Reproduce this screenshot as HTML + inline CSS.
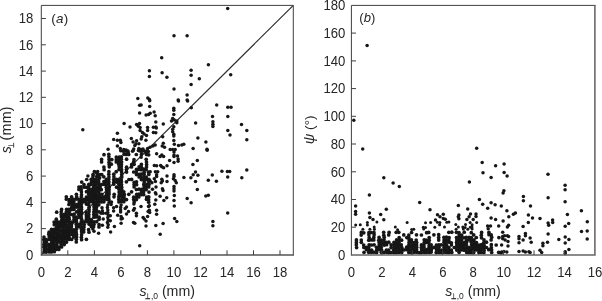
<!DOCTYPE html><html><head><meta charset="utf-8"><title>Figure</title><style>html,body{margin:0;padding:0;background:#fff}svg{display:block}text{font-family:"Liberation Sans",sans-serif;fill:#262626}</style></head><body>
<svg width="602" height="301" viewBox="0 0 602 301">
<rect width="602" height="301" fill="#fff"/>
<line x1="41.3" y1="254.9" x2="293.3" y2="5.4" stroke="#2a2a2a" stroke-width="1.15"/>
<g fill="#161616">
<circle cx="227.7" cy="8.6" r="1.75"/>
<circle cx="174.0" cy="35.8" r="1.75"/>
<circle cx="187.1" cy="35.8" r="1.75"/>
<circle cx="161.7" cy="57.7" r="1.75"/>
<circle cx="149.4" cy="70.7" r="1.75"/>
<circle cx="149.4" cy="76.5" r="1.75"/>
<circle cx="162.1" cy="72.8" r="1.75"/>
<circle cx="166.9" cy="77.3" r="1.75"/>
<circle cx="191.1" cy="70.3" r="1.75"/>
<circle cx="191.1" cy="75.2" r="1.75"/>
<circle cx="208.4" cy="64.7" r="1.75"/>
<circle cx="199.3" cy="78.8" r="1.75"/>
<circle cx="230.7" cy="74.8" r="1.75"/>
<circle cx="191.1" cy="84.5" r="1.75"/>
<circle cx="174.0" cy="89.0" r="1.75"/>
<circle cx="187.1" cy="94.9" r="1.75"/>
<circle cx="147.8" cy="97.9" r="1.75"/>
<circle cx="149.4" cy="99.4" r="1.75"/>
<circle cx="178.2" cy="100.1" r="1.75"/>
<circle cx="187.1" cy="100.1" r="1.75"/>
<circle cx="137.8" cy="98.6" r="1.75"/>
<circle cx="82.8" cy="129.7" r="1.75"/>
<circle cx="139.6" cy="105.2" r="1.75"/>
<circle cx="139.6" cy="113.0" r="1.75"/>
<circle cx="141.1" cy="104.9" r="1.75"/>
<circle cx="149.7" cy="106.4" r="1.75"/>
<circle cx="149.7" cy="100.7" r="1.75"/>
<circle cx="146.1" cy="114.9" r="1.75"/>
<circle cx="148.6" cy="114.4" r="1.75"/>
<circle cx="150.2" cy="113.2" r="1.75"/>
<circle cx="154.1" cy="111.9" r="1.75"/>
<circle cx="173.8" cy="108.2" r="1.75"/>
<circle cx="173.8" cy="110.2" r="1.75"/>
<circle cx="173.8" cy="114.4" r="1.75"/>
<circle cx="172.7" cy="118.5" r="1.75"/>
<circle cx="174.3" cy="119.9" r="1.75"/>
<circle cx="171.5" cy="121.0" r="1.75"/>
<circle cx="176.8" cy="121.0" r="1.75"/>
<circle cx="176.8" cy="122.7" r="1.75"/>
<circle cx="173.8" cy="126.8" r="1.75"/>
<circle cx="172.7" cy="129.3" r="1.75"/>
<circle cx="172.7" cy="131.8" r="1.75"/>
<circle cx="173.8" cy="134.3" r="1.75"/>
<circle cx="173.8" cy="136.0" r="1.75"/>
<circle cx="173.8" cy="140.4" r="1.75"/>
<circle cx="174.3" cy="144.3" r="1.75"/>
<circle cx="178.5" cy="145.4" r="1.75"/>
<circle cx="181.8" cy="145.1" r="1.75"/>
<circle cx="183.8" cy="144.3" r="1.75"/>
<circle cx="170.2" cy="149.6" r="1.75"/>
<circle cx="172.7" cy="149.6" r="1.75"/>
<circle cx="175.2" cy="149.6" r="1.75"/>
<circle cx="178.5" cy="101.1" r="1.75"/>
<circle cx="187.6" cy="101.1" r="1.75"/>
<circle cx="191.3" cy="107.7" r="1.75"/>
<circle cx="195.6" cy="123.0" r="1.75"/>
<circle cx="197.9" cy="138.0" r="1.75"/>
<circle cx="205.9" cy="142.1" r="1.75"/>
<circle cx="193.1" cy="148.4" r="1.75"/>
<circle cx="207.0" cy="149.3" r="1.75"/>
<circle cx="216.7" cy="104.9" r="1.75"/>
<circle cx="212.5" cy="116.4" r="1.75"/>
<circle cx="212.9" cy="121.8" r="1.75"/>
<circle cx="212.9" cy="124.3" r="1.75"/>
<circle cx="212.9" cy="126.5" r="1.75"/>
<circle cx="227.8" cy="107.2" r="1.75"/>
<circle cx="227.8" cy="116.5" r="1.75"/>
<circle cx="227.8" cy="130.6" r="1.75"/>
<circle cx="230.0" cy="135.1" r="1.75"/>
<circle cx="231.0" cy="107.2" r="1.75"/>
<circle cx="241.5" cy="124.5" r="1.75"/>
<circle cx="246.8" cy="130.6" r="1.75"/>
<circle cx="246.8" cy="139.8" r="1.75"/>
<circle cx="221.9" cy="171.2" r="1.75"/>
<circle cx="227.4" cy="171.5" r="1.75"/>
<circle cx="229.7" cy="171.5" r="1.75"/>
<circle cx="246.8" cy="169.9" r="1.75"/>
<circle cx="212.3" cy="175.0" r="1.75"/>
<circle cx="227.7" cy="177.0" r="1.75"/>
<circle cx="241.8" cy="177.7" r="1.75"/>
<circle cx="208.3" cy="180.3" r="1.75"/>
<circle cx="216.4" cy="181.3" r="1.75"/>
<circle cx="205.8" cy="196.1" r="1.75"/>
<circle cx="208.3" cy="195.3" r="1.75"/>
<circle cx="227.7" cy="213.0" r="1.75"/>
<circle cx="212.9" cy="221.5" r="1.75"/>
<circle cx="212.9" cy="225.7" r="1.75"/>
<circle cx="207.2" cy="150.2" r="1.75"/>
<circle cx="197.3" cy="160.5" r="1.75"/>
<circle cx="192.9" cy="164.4" r="1.75"/>
<circle cx="195.5" cy="172.1" r="1.75"/>
<circle cx="193.2" cy="174.7" r="1.75"/>
<circle cx="197.9" cy="175.2" r="1.75"/>
<circle cx="190.9" cy="177.8" r="1.75"/>
<circle cx="195.5" cy="181.6" r="1.75"/>
<circle cx="183.9" cy="177.6" r="1.75"/>
<circle cx="174.0" cy="152.0" r="1.75"/>
<circle cx="174.0" cy="154.9" r="1.75"/>
<circle cx="174.0" cy="156.6" r="1.75"/>
<circle cx="177.5" cy="156.1" r="1.75"/>
<circle cx="178.1" cy="159.0" r="1.75"/>
<circle cx="178.1" cy="161.3" r="1.75"/>
<circle cx="174.0" cy="162.5" r="1.75"/>
<circle cx="169.6" cy="160.5" r="1.75"/>
<circle cx="156.6" cy="153.7" r="1.75"/>
<circle cx="161.8" cy="154.9" r="1.75"/>
<circle cx="160.1" cy="156.6" r="1.75"/>
<circle cx="163.6" cy="156.6" r="1.75"/>
<circle cx="154.3" cy="165.4" r="1.75"/>
<circle cx="156.6" cy="165.7" r="1.75"/>
<circle cx="160.6" cy="165.4" r="1.75"/>
<circle cx="161.8" cy="166.8" r="1.75"/>
<circle cx="163.6" cy="167.7" r="1.75"/>
<circle cx="167.0" cy="165.7" r="1.75"/>
<circle cx="155.4" cy="171.8" r="1.75"/>
<circle cx="157.7" cy="171.8" r="1.75"/>
<circle cx="156.6" cy="174.7" r="1.75"/>
<circle cx="156.6" cy="176.4" r="1.75"/>
<circle cx="150.2" cy="171.8" r="1.75"/>
<circle cx="167.0" cy="176.1" r="1.75"/>
<circle cx="174.0" cy="174.7" r="1.75"/>
<circle cx="174.0" cy="176.4" r="1.75"/>
<circle cx="173.4" cy="178.7" r="1.75"/>
<circle cx="175.2" cy="180.5" r="1.75"/>
<circle cx="176.3" cy="182.8" r="1.75"/>
<circle cx="167.0" cy="181.6" r="1.75"/>
<circle cx="161.8" cy="179.3" r="1.75"/>
<circle cx="162.4" cy="181.1" r="1.75"/>
<circle cx="161.2" cy="182.8" r="1.75"/>
<circle cx="154.3" cy="178.7" r="1.75"/>
<circle cx="155.4" cy="181.6" r="1.75"/>
<circle cx="146.1" cy="153.2" r="1.75"/>
<circle cx="148.4" cy="151.4" r="1.75"/>
<circle cx="141.5" cy="151.4" r="1.75"/>
<circle cx="150.2" cy="181.1" r="1.75"/>
<circle cx="151.9" cy="182.8" r="1.75"/>
<circle cx="197.3" cy="189.6" r="1.75"/>
<circle cx="187.2" cy="198.4" r="1.75"/>
<circle cx="191.1" cy="202.7" r="1.75"/>
<circle cx="174.0" cy="186.4" r="1.75"/>
<circle cx="174.0" cy="188.7" r="1.75"/>
<circle cx="174.0" cy="191.1" r="1.75"/>
<circle cx="174.3" cy="195.5" r="1.75"/>
<circle cx="174.0" cy="200.4" r="1.75"/>
<circle cx="174.3" cy="205.9" r="1.75"/>
<circle cx="174.6" cy="218.4" r="1.75"/>
<circle cx="162.4" cy="188.7" r="1.75"/>
<circle cx="163.0" cy="190.5" r="1.75"/>
<circle cx="160.1" cy="196.3" r="1.75"/>
<circle cx="166.7" cy="197.7" r="1.75"/>
<circle cx="163.9" cy="200.4" r="1.75"/>
<circle cx="156.0" cy="187.0" r="1.75"/>
<circle cx="155.4" cy="192.8" r="1.75"/>
<circle cx="156.0" cy="194.0" r="1.75"/>
<circle cx="155.8" cy="200.1" r="1.75"/>
<circle cx="154.8" cy="204.2" r="1.75"/>
<circle cx="156.6" cy="210.2" r="1.75"/>
<circle cx="156.6" cy="214.3" r="1.75"/>
<circle cx="152.5" cy="189.3" r="1.75"/>
<circle cx="155.8" cy="225.6" r="1.75"/>
<circle cx="163.1" cy="223.5" r="1.75"/>
<circle cx="176.8" cy="221.5" r="1.75"/>
<circle cx="160.2" cy="234.3" r="1.75"/>
<circle cx="124.5" cy="151.1" r="1.75"/>
<circle cx="128.0" cy="152.2" r="1.75"/>
<circle cx="133.2" cy="150.5" r="1.75"/>
<circle cx="138.4" cy="150.5" r="1.75"/>
<circle cx="143.1" cy="150.5" r="1.75"/>
<circle cx="94.3" cy="171.4" r="1.75"/>
<circle cx="97.7" cy="171.4" r="1.75"/>
<circle cx="87.9" cy="176.1" r="1.75"/>
<circle cx="93.1" cy="175.5" r="1.75"/>
<circle cx="96.6" cy="176.6" r="1.75"/>
<circle cx="96.8" cy="173.2" r="1.75"/>
<circle cx="99.7" cy="177.8" r="1.75"/>
<circle cx="100.3" cy="186.9" r="1.75"/>
<circle cx="120.7" cy="150.8" r="1.75"/>
<circle cx="123.1" cy="151.2" r="1.75"/>
<circle cx="125.6" cy="151.0" r="1.75"/>
<circle cx="128.0" cy="151.0" r="1.75"/>
<circle cx="132.5" cy="151.2" r="1.75"/>
<circle cx="139.7" cy="150.9" r="1.75"/>
<circle cx="144.3" cy="151.1" r="1.75"/>
<circle cx="146.7" cy="150.9" r="1.75"/>
<circle cx="95.3" cy="172.0" r="1.75"/>
<circle cx="93.1" cy="174.2" r="1.75"/>
<circle cx="97.6" cy="174.5" r="1.75"/>
<circle cx="100.1" cy="174.4" r="1.75"/>
<circle cx="92.9" cy="176.9" r="1.75"/>
<circle cx="98.0" cy="176.5" r="1.75"/>
<circle cx="155.2" cy="115.8" r="1.75"/>
<circle cx="155.8" cy="121.9" r="1.75"/>
<circle cx="163.3" cy="124.0" r="1.75"/>
<circle cx="124.1" cy="123.6" r="1.75"/>
<circle cx="130.0" cy="126.9" r="1.75"/>
<circle cx="136.6" cy="124.6" r="1.75"/>
<circle cx="139.5" cy="123.6" r="1.75"/>
<circle cx="138.3" cy="126.3" r="1.75"/>
<circle cx="140.1" cy="127.5" r="1.75"/>
<circle cx="147.6" cy="127.5" r="1.75"/>
<circle cx="147.6" cy="130.4" r="1.75"/>
<circle cx="153.4" cy="127.2" r="1.75"/>
<circle cx="155.8" cy="126.9" r="1.75"/>
<circle cx="156.3" cy="128.0" r="1.75"/>
<circle cx="153.4" cy="132.5" r="1.75"/>
<circle cx="155.8" cy="132.7" r="1.75"/>
<circle cx="140.1" cy="130.4" r="1.75"/>
<circle cx="142.4" cy="132.5" r="1.75"/>
<circle cx="144.1" cy="133.9" r="1.75"/>
<circle cx="146.5" cy="135.6" r="1.75"/>
<circle cx="117.4" cy="133.3" r="1.75"/>
<circle cx="141.8" cy="136.8" r="1.75"/>
<circle cx="141.2" cy="139.1" r="1.75"/>
<circle cx="145.9" cy="140.2" r="1.75"/>
<circle cx="131.3" cy="138.5" r="1.75"/>
<circle cx="133.1" cy="142.0" r="1.75"/>
<circle cx="136.6" cy="140.8" r="1.75"/>
<circle cx="136.0" cy="143.7" r="1.75"/>
<circle cx="138.9" cy="143.7" r="1.75"/>
<circle cx="134.8" cy="145.5" r="1.75"/>
<circle cx="113.7" cy="139.4" r="1.75"/>
<circle cx="117.4" cy="140.2" r="1.75"/>
<circle cx="120.3" cy="140.2" r="1.75"/>
<circle cx="120.9" cy="142.6" r="1.75"/>
<circle cx="117.4" cy="146.1" r="1.75"/>
<circle cx="120.3" cy="148.4" r="1.75"/>
<circle cx="108.1" cy="149.2" r="1.75"/>
<circle cx="162.7" cy="136.8" r="1.75"/>
<circle cx="163.3" cy="143.2" r="1.75"/>
<circle cx="162.2" cy="146.1" r="1.75"/>
<circle cx="164.5" cy="147.2" r="1.75"/>
<circle cx="133.7" cy="149.0" r="1.75"/>
<circle cx="138.9" cy="148.4" r="1.75"/>
<circle cx="141.2" cy="149.6" r="1.75"/>
<circle cx="143.0" cy="149.0" r="1.75"/>
<circle cx="147.6" cy="148.4" r="1.75"/>
<circle cx="150.0" cy="147.2" r="1.75"/>
<circle cx="152.9" cy="146.1" r="1.75"/>
<circle cx="155.2" cy="144.9" r="1.75"/>
<circle cx="123.8" cy="149.6" r="1.75"/>
<circle cx="126.1" cy="149.9" r="1.75"/>
<circle cx="106.3" cy="179.4" r="1.85"/>
<circle cx="108.7" cy="179.3" r="1.85"/>
<circle cx="113.7" cy="179.6" r="1.85"/>
<circle cx="116.5" cy="179.3" r="1.85"/>
<circle cx="119.0" cy="179.8" r="1.85"/>
<circle cx="121.2" cy="179.7" r="1.85"/>
<circle cx="128.9" cy="179.5" r="1.85"/>
<circle cx="131.6" cy="179.4" r="1.85"/>
<circle cx="141.4" cy="179.6" r="1.85"/>
<circle cx="144.2" cy="179.4" r="1.85"/>
<circle cx="146.6" cy="179.6" r="1.85"/>
<circle cx="149.0" cy="179.4" r="1.85"/>
<circle cx="103.9" cy="181.7" r="1.85"/>
<circle cx="106.3" cy="182.1" r="1.85"/>
<circle cx="108.9" cy="181.8" r="1.85"/>
<circle cx="113.8" cy="182.2" r="1.85"/>
<circle cx="116.7" cy="182.1" r="1.85"/>
<circle cx="118.8" cy="181.9" r="1.85"/>
<circle cx="121.5" cy="181.8" r="1.85"/>
<circle cx="126.4" cy="181.8" r="1.85"/>
<circle cx="134.2" cy="182.3" r="1.85"/>
<circle cx="136.5" cy="181.8" r="1.85"/>
<circle cx="144.2" cy="181.9" r="1.85"/>
<circle cx="148.8" cy="181.7" r="1.85"/>
<circle cx="101.5" cy="184.5" r="1.85"/>
<circle cx="104.0" cy="184.3" r="1.85"/>
<circle cx="106.2" cy="184.3" r="1.85"/>
<circle cx="108.8" cy="184.4" r="1.85"/>
<circle cx="113.7" cy="184.2" r="1.85"/>
<circle cx="118.9" cy="184.3" r="1.85"/>
<circle cx="121.5" cy="184.5" r="1.85"/>
<circle cx="134.1" cy="184.6" r="1.85"/>
<circle cx="136.6" cy="184.7" r="1.85"/>
<circle cx="143.8" cy="184.4" r="1.85"/>
<circle cx="146.7" cy="184.3" r="1.85"/>
<circle cx="149.0" cy="184.6" r="1.85"/>
<circle cx="106.3" cy="187.2" r="1.85"/>
<circle cx="109.3" cy="187.0" r="1.85"/>
<circle cx="116.6" cy="187.2" r="1.85"/>
<circle cx="119.0" cy="187.0" r="1.85"/>
<circle cx="121.7" cy="187.2" r="1.85"/>
<circle cx="134.1" cy="187.0" r="1.85"/>
<circle cx="144.1" cy="187.1" r="1.85"/>
<circle cx="146.2" cy="186.7" r="1.85"/>
<circle cx="148.7" cy="186.9" r="1.85"/>
<circle cx="101.3" cy="189.7" r="1.85"/>
<circle cx="106.6" cy="189.5" r="1.85"/>
<circle cx="109.1" cy="189.6" r="1.85"/>
<circle cx="119.0" cy="189.2" r="1.85"/>
<circle cx="121.7" cy="189.6" r="1.85"/>
<circle cx="136.4" cy="189.5" r="1.85"/>
<circle cx="139.0" cy="189.2" r="1.85"/>
<circle cx="141.6" cy="189.3" r="1.85"/>
<circle cx="143.8" cy="189.6" r="1.85"/>
<circle cx="146.2" cy="189.6" r="1.85"/>
<circle cx="106.8" cy="192.0" r="1.85"/>
<circle cx="109.0" cy="191.9" r="1.85"/>
<circle cx="119.1" cy="192.1" r="1.85"/>
<circle cx="121.6" cy="191.7" r="1.85"/>
<circle cx="123.8" cy="191.8" r="1.85"/>
<circle cx="131.6" cy="191.8" r="1.85"/>
<circle cx="141.5" cy="191.7" r="1.85"/>
<circle cx="143.6" cy="191.8" r="1.85"/>
<circle cx="149.0" cy="192.1" r="1.85"/>
<circle cx="101.7" cy="194.3" r="1.85"/>
<circle cx="106.5" cy="194.4" r="1.85"/>
<circle cx="109.0" cy="194.2" r="1.85"/>
<circle cx="114.2" cy="194.3" r="1.85"/>
<circle cx="119.3" cy="194.7" r="1.85"/>
<circle cx="121.5" cy="194.6" r="1.85"/>
<circle cx="124.3" cy="194.4" r="1.85"/>
<circle cx="128.8" cy="194.3" r="1.85"/>
<circle cx="136.7" cy="194.3" r="1.85"/>
<circle cx="139.0" cy="194.2" r="1.85"/>
<circle cx="141.4" cy="194.7" r="1.85"/>
<circle cx="143.7" cy="194.6" r="1.85"/>
<circle cx="101.6" cy="197.2" r="1.85"/>
<circle cx="104.2" cy="196.8" r="1.85"/>
<circle cx="106.5" cy="196.7" r="1.85"/>
<circle cx="108.7" cy="196.9" r="1.85"/>
<circle cx="114.0" cy="196.8" r="1.85"/>
<circle cx="118.8" cy="196.8" r="1.85"/>
<circle cx="121.7" cy="196.6" r="1.85"/>
<circle cx="124.1" cy="197.1" r="1.85"/>
<circle cx="133.7" cy="197.2" r="1.85"/>
<circle cx="136.7" cy="196.8" r="1.85"/>
<circle cx="138.8" cy="196.9" r="1.85"/>
<circle cx="146.7" cy="197.0" r="1.85"/>
<circle cx="148.8" cy="196.9" r="1.85"/>
<circle cx="101.4" cy="199.2" r="1.85"/>
<circle cx="104.2" cy="199.3" r="1.85"/>
<circle cx="106.8" cy="199.3" r="1.85"/>
<circle cx="108.9" cy="199.4" r="1.85"/>
<circle cx="118.8" cy="199.4" r="1.85"/>
<circle cx="121.7" cy="199.6" r="1.85"/>
<circle cx="124.2" cy="199.7" r="1.85"/>
<circle cx="126.5" cy="199.6" r="1.85"/>
<circle cx="133.7" cy="199.6" r="1.85"/>
<circle cx="136.4" cy="199.6" r="1.85"/>
<circle cx="146.5" cy="199.3" r="1.85"/>
<circle cx="148.6" cy="199.7" r="1.85"/>
<circle cx="101.3" cy="201.9" r="1.85"/>
<circle cx="103.9" cy="201.8" r="1.85"/>
<circle cx="109.2" cy="202.2" r="1.85"/>
<circle cx="111.4" cy="202.0" r="1.85"/>
<circle cx="118.9" cy="202.0" r="1.85"/>
<circle cx="121.4" cy="201.7" r="1.85"/>
<circle cx="123.8" cy="201.7" r="1.85"/>
<circle cx="134.2" cy="201.9" r="1.85"/>
<circle cx="148.7" cy="202.2" r="1.85"/>
<circle cx="86.7" cy="179.5" r="1.85"/>
<circle cx="91.2" cy="179.3" r="1.85"/>
<circle cx="93.7" cy="179.4" r="1.85"/>
<circle cx="96.2" cy="179.3" r="1.85"/>
<circle cx="98.7" cy="179.5" r="1.85"/>
<circle cx="81.7" cy="182.1" r="1.85"/>
<circle cx="91.4" cy="181.9" r="1.85"/>
<circle cx="93.8" cy="181.9" r="1.85"/>
<circle cx="96.3" cy="182.3" r="1.85"/>
<circle cx="98.7" cy="182.0" r="1.85"/>
<circle cx="84.0" cy="184.7" r="1.85"/>
<circle cx="88.8" cy="184.3" r="1.85"/>
<circle cx="91.3" cy="184.4" r="1.85"/>
<circle cx="94.2" cy="184.7" r="1.85"/>
<circle cx="96.1" cy="184.2" r="1.85"/>
<circle cx="99.0" cy="184.7" r="1.85"/>
<circle cx="78.9" cy="187.0" r="1.85"/>
<circle cx="81.1" cy="186.9" r="1.85"/>
<circle cx="84.2" cy="187.2" r="1.85"/>
<circle cx="86.6" cy="187.3" r="1.85"/>
<circle cx="88.8" cy="186.7" r="1.85"/>
<circle cx="93.7" cy="187.0" r="1.85"/>
<circle cx="96.7" cy="187.1" r="1.85"/>
<circle cx="99.0" cy="187.1" r="1.85"/>
<circle cx="78.9" cy="189.5" r="1.85"/>
<circle cx="81.2" cy="189.6" r="1.85"/>
<circle cx="88.8" cy="189.7" r="1.85"/>
<circle cx="91.5" cy="189.3" r="1.85"/>
<circle cx="93.8" cy="189.5" r="1.85"/>
<circle cx="96.2" cy="189.2" r="1.85"/>
<circle cx="98.9" cy="189.5" r="1.85"/>
<circle cx="81.4" cy="191.8" r="1.85"/>
<circle cx="86.5" cy="191.7" r="1.85"/>
<circle cx="88.9" cy="192.2" r="1.85"/>
<circle cx="91.6" cy="191.9" r="1.85"/>
<circle cx="93.8" cy="192.2" r="1.85"/>
<circle cx="96.3" cy="191.7" r="1.85"/>
<circle cx="98.9" cy="192.1" r="1.85"/>
<circle cx="76.4" cy="194.3" r="1.85"/>
<circle cx="81.5" cy="194.7" r="1.85"/>
<circle cx="88.8" cy="194.2" r="1.85"/>
<circle cx="91.4" cy="194.6" r="1.85"/>
<circle cx="94.1" cy="194.6" r="1.85"/>
<circle cx="96.2" cy="194.7" r="1.85"/>
<circle cx="98.8" cy="194.6" r="1.85"/>
<circle cx="66.3" cy="196.8" r="1.85"/>
<circle cx="71.6" cy="196.8" r="1.85"/>
<circle cx="76.7" cy="196.9" r="1.85"/>
<circle cx="81.3" cy="196.8" r="1.85"/>
<circle cx="86.4" cy="197.0" r="1.85"/>
<circle cx="88.7" cy="196.9" r="1.85"/>
<circle cx="91.7" cy="196.7" r="1.85"/>
<circle cx="93.6" cy="196.9" r="1.85"/>
<circle cx="96.6" cy="197.1" r="1.85"/>
<circle cx="99.2" cy="197.2" r="1.85"/>
<circle cx="66.4" cy="199.2" r="1.85"/>
<circle cx="69.2" cy="199.6" r="1.85"/>
<circle cx="71.6" cy="199.4" r="1.85"/>
<circle cx="73.9" cy="199.3" r="1.85"/>
<circle cx="76.3" cy="199.1" r="1.85"/>
<circle cx="78.8" cy="199.3" r="1.85"/>
<circle cx="81.2" cy="199.7" r="1.85"/>
<circle cx="83.8" cy="199.3" r="1.85"/>
<circle cx="86.6" cy="199.4" r="1.85"/>
<circle cx="88.9" cy="199.4" r="1.85"/>
<circle cx="91.2" cy="199.3" r="1.85"/>
<circle cx="93.6" cy="199.4" r="1.85"/>
<circle cx="96.6" cy="199.2" r="1.85"/>
<circle cx="98.6" cy="199.2" r="1.85"/>
<circle cx="69.2" cy="201.8" r="1.85"/>
<circle cx="71.6" cy="202.2" r="1.85"/>
<circle cx="73.9" cy="201.8" r="1.85"/>
<circle cx="79.2" cy="202.0" r="1.85"/>
<circle cx="81.3" cy="202.1" r="1.85"/>
<circle cx="83.8" cy="201.8" r="1.85"/>
<circle cx="86.1" cy="202.1" r="1.85"/>
<circle cx="89.2" cy="202.0" r="1.85"/>
<circle cx="91.7" cy="201.6" r="1.85"/>
<circle cx="93.7" cy="201.9" r="1.85"/>
<circle cx="96.7" cy="202.2" r="1.85"/>
<circle cx="98.8" cy="201.8" r="1.85"/>
<circle cx="68.9" cy="204.5" r="1.85"/>
<circle cx="71.7" cy="204.3" r="1.85"/>
<circle cx="74.2" cy="204.6" r="1.85"/>
<circle cx="76.7" cy="204.7" r="1.85"/>
<circle cx="79.0" cy="204.4" r="1.85"/>
<circle cx="81.3" cy="204.4" r="1.85"/>
<circle cx="86.6" cy="204.2" r="1.85"/>
<circle cx="88.7" cy="204.6" r="1.85"/>
<circle cx="93.8" cy="204.2" r="1.85"/>
<circle cx="96.1" cy="204.5" r="1.85"/>
<circle cx="98.8" cy="204.8" r="1.85"/>
<circle cx="71.7" cy="207.3" r="1.85"/>
<circle cx="73.7" cy="206.7" r="1.85"/>
<circle cx="76.5" cy="207.1" r="1.85"/>
<circle cx="78.8" cy="206.9" r="1.85"/>
<circle cx="81.5" cy="207.1" r="1.85"/>
<circle cx="89.1" cy="207.2" r="1.85"/>
<circle cx="94.0" cy="206.8" r="1.85"/>
<circle cx="96.6" cy="206.9" r="1.85"/>
<circle cx="61.6" cy="209.4" r="1.85"/>
<circle cx="66.6" cy="209.3" r="1.85"/>
<circle cx="68.8" cy="209.3" r="1.85"/>
<circle cx="71.3" cy="209.7" r="1.85"/>
<circle cx="74.0" cy="209.4" r="1.85"/>
<circle cx="78.9" cy="209.8" r="1.85"/>
<circle cx="81.5" cy="209.3" r="1.85"/>
<circle cx="89.1" cy="209.6" r="1.85"/>
<circle cx="94.2" cy="209.2" r="1.85"/>
<circle cx="96.4" cy="209.7" r="1.85"/>
<circle cx="56.7" cy="212.2" r="1.85"/>
<circle cx="61.2" cy="211.8" r="1.85"/>
<circle cx="66.3" cy="211.8" r="1.85"/>
<circle cx="69.3" cy="212.0" r="1.85"/>
<circle cx="76.7" cy="211.9" r="1.85"/>
<circle cx="78.9" cy="211.8" r="1.85"/>
<circle cx="81.6" cy="212.2" r="1.85"/>
<circle cx="86.2" cy="212.0" r="1.85"/>
<circle cx="89.0" cy="211.8" r="1.85"/>
<circle cx="93.8" cy="211.8" r="1.85"/>
<circle cx="96.2" cy="212.0" r="1.85"/>
<circle cx="99.0" cy="211.8" r="1.85"/>
<circle cx="61.2" cy="214.4" r="1.85"/>
<circle cx="64.1" cy="214.3" r="1.85"/>
<circle cx="66.3" cy="214.6" r="1.85"/>
<circle cx="68.7" cy="214.2" r="1.85"/>
<circle cx="71.4" cy="214.5" r="1.85"/>
<circle cx="74.1" cy="214.2" r="1.85"/>
<circle cx="78.8" cy="214.6" r="1.85"/>
<circle cx="81.4" cy="214.3" r="1.85"/>
<circle cx="86.3" cy="214.7" r="1.85"/>
<circle cx="88.8" cy="214.5" r="1.85"/>
<circle cx="93.8" cy="214.4" r="1.85"/>
<circle cx="96.6" cy="214.8" r="1.85"/>
<circle cx="61.4" cy="216.8" r="1.85"/>
<circle cx="63.8" cy="216.7" r="1.85"/>
<circle cx="66.5" cy="217.1" r="1.85"/>
<circle cx="68.9" cy="217.2" r="1.85"/>
<circle cx="73.9" cy="216.8" r="1.85"/>
<circle cx="76.2" cy="217.0" r="1.85"/>
<circle cx="79.0" cy="217.2" r="1.85"/>
<circle cx="81.2" cy="217.0" r="1.85"/>
<circle cx="86.4" cy="217.0" r="1.85"/>
<circle cx="88.7" cy="216.8" r="1.85"/>
<circle cx="93.9" cy="217.2" r="1.85"/>
<circle cx="96.2" cy="216.9" r="1.85"/>
<circle cx="99.1" cy="217.2" r="1.85"/>
<circle cx="56.3" cy="219.2" r="1.85"/>
<circle cx="61.8" cy="219.7" r="1.85"/>
<circle cx="63.7" cy="219.7" r="1.85"/>
<circle cx="66.7" cy="219.5" r="1.85"/>
<circle cx="69.2" cy="219.2" r="1.85"/>
<circle cx="74.1" cy="219.3" r="1.85"/>
<circle cx="76.4" cy="219.7" r="1.85"/>
<circle cx="81.6" cy="219.3" r="1.85"/>
<circle cx="86.3" cy="219.4" r="1.85"/>
<circle cx="88.9" cy="219.2" r="1.85"/>
<circle cx="91.3" cy="219.6" r="1.85"/>
<circle cx="99.1" cy="219.2" r="1.85"/>
<circle cx="54.1" cy="222.1" r="1.85"/>
<circle cx="56.7" cy="221.7" r="1.85"/>
<circle cx="59.1" cy="222.0" r="1.85"/>
<circle cx="61.4" cy="221.9" r="1.85"/>
<circle cx="64.0" cy="222.0" r="1.85"/>
<circle cx="66.5" cy="221.7" r="1.85"/>
<circle cx="69.0" cy="221.8" r="1.85"/>
<circle cx="71.6" cy="222.1" r="1.85"/>
<circle cx="73.9" cy="221.7" r="1.85"/>
<circle cx="76.4" cy="221.7" r="1.85"/>
<circle cx="81.2" cy="221.9" r="1.85"/>
<circle cx="83.7" cy="221.9" r="1.85"/>
<circle cx="86.4" cy="221.7" r="1.85"/>
<circle cx="88.7" cy="222.1" r="1.85"/>
<circle cx="91.4" cy="221.7" r="1.85"/>
<circle cx="93.9" cy="221.9" r="1.85"/>
<circle cx="96.7" cy="221.7" r="1.85"/>
<circle cx="54.3" cy="224.7" r="1.85"/>
<circle cx="56.7" cy="224.2" r="1.85"/>
<circle cx="59.0" cy="224.7" r="1.85"/>
<circle cx="61.3" cy="224.6" r="1.85"/>
<circle cx="63.7" cy="224.3" r="1.85"/>
<circle cx="66.3" cy="224.7" r="1.85"/>
<circle cx="69.2" cy="224.2" r="1.85"/>
<circle cx="71.5" cy="224.7" r="1.85"/>
<circle cx="76.3" cy="224.3" r="1.85"/>
<circle cx="79.0" cy="224.3" r="1.85"/>
<circle cx="81.3" cy="224.2" r="1.85"/>
<circle cx="84.2" cy="224.5" r="1.85"/>
<circle cx="89.2" cy="224.2" r="1.85"/>
<circle cx="91.2" cy="224.4" r="1.85"/>
<circle cx="94.0" cy="224.3" r="1.85"/>
<circle cx="99.1" cy="224.5" r="1.85"/>
<circle cx="56.6" cy="227.2" r="1.85"/>
<circle cx="58.8" cy="227.2" r="1.85"/>
<circle cx="61.6" cy="226.9" r="1.85"/>
<circle cx="64.2" cy="226.8" r="1.85"/>
<circle cx="66.8" cy="227.0" r="1.85"/>
<circle cx="68.9" cy="227.1" r="1.85"/>
<circle cx="71.4" cy="226.7" r="1.85"/>
<circle cx="76.6" cy="226.7" r="1.85"/>
<circle cx="79.1" cy="226.8" r="1.85"/>
<circle cx="81.5" cy="227.2" r="1.85"/>
<circle cx="84.0" cy="227.0" r="1.85"/>
<circle cx="91.3" cy="226.6" r="1.85"/>
<circle cx="93.6" cy="226.7" r="1.85"/>
<circle cx="99.0" cy="226.9" r="1.85"/>
<circle cx="104.0" cy="154.7" r="1.85"/>
<circle cx="108.8" cy="154.3" r="1.85"/>
<circle cx="124.1" cy="154.2" r="1.85"/>
<circle cx="126.2" cy="154.4" r="1.85"/>
<circle cx="128.7" cy="154.4" r="1.85"/>
<circle cx="136.3" cy="154.5" r="1.85"/>
<circle cx="141.5" cy="154.3" r="1.85"/>
<circle cx="146.5" cy="154.5" r="1.85"/>
<circle cx="148.7" cy="154.8" r="1.85"/>
<circle cx="108.9" cy="156.8" r="1.85"/>
<circle cx="116.3" cy="157.1" r="1.85"/>
<circle cx="119.2" cy="157.2" r="1.85"/>
<circle cx="121.4" cy="156.8" r="1.85"/>
<circle cx="141.1" cy="157.1" r="1.85"/>
<circle cx="101.6" cy="159.4" r="1.85"/>
<circle cx="109.1" cy="159.4" r="1.85"/>
<circle cx="111.8" cy="159.6" r="1.85"/>
<circle cx="116.3" cy="159.7" r="1.85"/>
<circle cx="119.0" cy="159.4" r="1.85"/>
<circle cx="121.3" cy="159.2" r="1.85"/>
<circle cx="126.6" cy="159.2" r="1.85"/>
<circle cx="134.0" cy="159.7" r="1.85"/>
<circle cx="146.2" cy="159.3" r="1.85"/>
<circle cx="101.6" cy="162.0" r="1.85"/>
<circle cx="109.1" cy="162.2" r="1.85"/>
<circle cx="116.3" cy="161.9" r="1.85"/>
<circle cx="118.7" cy="162.2" r="1.85"/>
<circle cx="121.6" cy="162.1" r="1.85"/>
<circle cx="133.6" cy="162.2" r="1.85"/>
<circle cx="146.5" cy="162.0" r="1.85"/>
<circle cx="109.2" cy="164.4" r="1.85"/>
<circle cx="111.3" cy="164.2" r="1.85"/>
<circle cx="118.8" cy="164.2" r="1.85"/>
<circle cx="121.4" cy="164.6" r="1.85"/>
<circle cx="131.6" cy="164.7" r="1.85"/>
<circle cx="134.1" cy="164.3" r="1.85"/>
<circle cx="141.4" cy="164.4" r="1.85"/>
<circle cx="146.6" cy="164.5" r="1.85"/>
<circle cx="103.9" cy="167.0" r="1.85"/>
<circle cx="109.3" cy="166.8" r="1.85"/>
<circle cx="119.2" cy="166.7" r="1.85"/>
<circle cx="121.3" cy="166.8" r="1.85"/>
<circle cx="126.6" cy="167.2" r="1.85"/>
<circle cx="131.6" cy="166.9" r="1.85"/>
<circle cx="139.1" cy="166.9" r="1.85"/>
<circle cx="141.3" cy="167.2" r="1.85"/>
<circle cx="146.5" cy="167.1" r="1.85"/>
<circle cx="104.1" cy="169.7" r="1.85"/>
<circle cx="119.0" cy="169.6" r="1.85"/>
<circle cx="121.6" cy="169.7" r="1.85"/>
<circle cx="126.4" cy="169.6" r="1.85"/>
<circle cx="136.5" cy="169.3" r="1.85"/>
<circle cx="138.7" cy="169.5" r="1.85"/>
<circle cx="141.2" cy="169.7" r="1.85"/>
<circle cx="143.7" cy="169.2" r="1.85"/>
<circle cx="146.2" cy="169.7" r="1.85"/>
<circle cx="108.9" cy="171.7" r="1.85"/>
<circle cx="116.2" cy="171.7" r="1.85"/>
<circle cx="121.6" cy="172.0" r="1.85"/>
<circle cx="126.6" cy="172.1" r="1.85"/>
<circle cx="133.7" cy="172.0" r="1.85"/>
<circle cx="136.3" cy="172.1" r="1.85"/>
<circle cx="144.1" cy="172.2" r="1.85"/>
<circle cx="148.6" cy="172.2" r="1.85"/>
<circle cx="101.8" cy="174.7" r="1.85"/>
<circle cx="108.8" cy="174.3" r="1.85"/>
<circle cx="113.8" cy="174.2" r="1.85"/>
<circle cx="121.7" cy="174.6" r="1.85"/>
<circle cx="136.5" cy="174.6" r="1.85"/>
<circle cx="139.0" cy="174.3" r="1.85"/>
<circle cx="141.2" cy="174.2" r="1.85"/>
<circle cx="144.1" cy="174.3" r="1.85"/>
<circle cx="148.8" cy="174.4" r="1.85"/>
<circle cx="103.8" cy="176.8" r="1.85"/>
<circle cx="108.9" cy="177.1" r="1.85"/>
<circle cx="113.9" cy="176.8" r="1.85"/>
<circle cx="121.8" cy="176.9" r="1.85"/>
<circle cx="139.1" cy="177.0" r="1.85"/>
<circle cx="141.1" cy="176.9" r="1.85"/>
<circle cx="143.9" cy="177.1" r="1.85"/>
<circle cx="146.3" cy="177.0" r="1.85"/>
<circle cx="51.5" cy="229.3" r="1.85"/>
<circle cx="54.2" cy="229.3" r="1.85"/>
<circle cx="56.7" cy="229.3" r="1.85"/>
<circle cx="58.7" cy="229.3" r="1.85"/>
<circle cx="61.6" cy="229.8" r="1.85"/>
<circle cx="63.7" cy="229.5" r="1.85"/>
<circle cx="66.5" cy="229.7" r="1.85"/>
<circle cx="68.8" cy="229.5" r="1.85"/>
<circle cx="71.4" cy="229.7" r="1.85"/>
<circle cx="73.8" cy="229.8" r="1.85"/>
<circle cx="76.3" cy="229.3" r="1.85"/>
<circle cx="81.5" cy="229.5" r="1.85"/>
<circle cx="83.7" cy="229.6" r="1.85"/>
<circle cx="88.6" cy="229.7" r="1.85"/>
<circle cx="49.1" cy="232.2" r="1.85"/>
<circle cx="51.4" cy="231.9" r="1.85"/>
<circle cx="54.2" cy="231.7" r="1.85"/>
<circle cx="56.2" cy="231.8" r="1.85"/>
<circle cx="59.2" cy="232.0" r="1.85"/>
<circle cx="61.7" cy="231.8" r="1.85"/>
<circle cx="64.0" cy="232.1" r="1.85"/>
<circle cx="66.6" cy="231.9" r="1.85"/>
<circle cx="68.7" cy="232.2" r="1.85"/>
<circle cx="71.6" cy="231.8" r="1.85"/>
<circle cx="74.1" cy="232.0" r="1.85"/>
<circle cx="76.2" cy="232.0" r="1.85"/>
<circle cx="81.6" cy="231.8" r="1.85"/>
<circle cx="83.7" cy="231.9" r="1.85"/>
<circle cx="89.0" cy="232.2" r="1.85"/>
<circle cx="48.8" cy="234.3" r="1.85"/>
<circle cx="51.4" cy="234.5" r="1.85"/>
<circle cx="53.9" cy="234.3" r="1.85"/>
<circle cx="56.6" cy="234.2" r="1.85"/>
<circle cx="58.7" cy="234.4" r="1.85"/>
<circle cx="61.7" cy="234.6" r="1.85"/>
<circle cx="63.8" cy="234.6" r="1.85"/>
<circle cx="66.3" cy="234.4" r="1.85"/>
<circle cx="68.9" cy="234.7" r="1.85"/>
<circle cx="71.6" cy="234.5" r="1.85"/>
<circle cx="73.9" cy="234.3" r="1.85"/>
<circle cx="76.5" cy="234.4" r="1.85"/>
<circle cx="81.6" cy="234.7" r="1.85"/>
<circle cx="44.0" cy="237.0" r="1.85"/>
<circle cx="49.2" cy="236.9" r="1.85"/>
<circle cx="51.6" cy="237.2" r="1.85"/>
<circle cx="54.1" cy="237.2" r="1.85"/>
<circle cx="56.6" cy="236.9" r="1.85"/>
<circle cx="59.1" cy="236.7" r="1.85"/>
<circle cx="61.6" cy="237.1" r="1.85"/>
<circle cx="63.8" cy="236.9" r="1.85"/>
<circle cx="66.5" cy="236.9" r="1.85"/>
<circle cx="69.1" cy="237.2" r="1.85"/>
<circle cx="73.7" cy="237.1" r="1.85"/>
<circle cx="76.6" cy="236.9" r="1.85"/>
<circle cx="81.4" cy="237.3" r="1.85"/>
<circle cx="43.8" cy="239.5" r="1.85"/>
<circle cx="46.3" cy="239.6" r="1.85"/>
<circle cx="49.3" cy="239.5" r="1.85"/>
<circle cx="51.6" cy="239.5" r="1.85"/>
<circle cx="54.0" cy="239.5" r="1.85"/>
<circle cx="56.5" cy="239.4" r="1.85"/>
<circle cx="58.8" cy="239.6" r="1.85"/>
<circle cx="61.6" cy="239.2" r="1.85"/>
<circle cx="63.9" cy="239.2" r="1.85"/>
<circle cx="66.4" cy="239.2" r="1.85"/>
<circle cx="68.9" cy="239.4" r="1.85"/>
<circle cx="71.6" cy="239.4" r="1.85"/>
<circle cx="76.3" cy="239.3" r="1.85"/>
<circle cx="81.6" cy="239.7" r="1.85"/>
<circle cx="86.4" cy="239.3" r="1.85"/>
<circle cx="44.2" cy="241.9" r="1.85"/>
<circle cx="46.4" cy="241.7" r="1.85"/>
<circle cx="51.7" cy="242.1" r="1.85"/>
<circle cx="54.0" cy="242.0" r="1.85"/>
<circle cx="56.8" cy="241.9" r="1.85"/>
<circle cx="59.1" cy="242.1" r="1.85"/>
<circle cx="61.5" cy="241.8" r="1.85"/>
<circle cx="63.7" cy="242.2" r="1.85"/>
<circle cx="66.4" cy="242.2" r="1.85"/>
<circle cx="76.3" cy="241.9" r="1.85"/>
<circle cx="43.9" cy="244.4" r="1.85"/>
<circle cx="46.2" cy="244.6" r="1.85"/>
<circle cx="48.9" cy="244.3" r="1.85"/>
<circle cx="51.5" cy="244.4" r="1.85"/>
<circle cx="54.1" cy="244.4" r="1.85"/>
<circle cx="56.8" cy="244.7" r="1.85"/>
<circle cx="61.2" cy="244.6" r="1.85"/>
<circle cx="64.2" cy="244.6" r="1.85"/>
<circle cx="43.8" cy="247.1" r="1.85"/>
<circle cx="46.2" cy="246.6" r="1.85"/>
<circle cx="49.1" cy="246.8" r="1.85"/>
<circle cx="51.3" cy="246.8" r="1.85"/>
<circle cx="53.9" cy="246.7" r="1.85"/>
<circle cx="56.7" cy="246.7" r="1.85"/>
<circle cx="59.2" cy="247.0" r="1.85"/>
<circle cx="61.6" cy="247.0" r="1.85"/>
<circle cx="44.3" cy="249.6" r="1.85"/>
<circle cx="46.3" cy="249.5" r="1.85"/>
<circle cx="49.2" cy="249.4" r="1.85"/>
<circle cx="51.5" cy="249.3" r="1.85"/>
<circle cx="53.8" cy="249.4" r="1.85"/>
<circle cx="56.2" cy="249.4" r="1.85"/>
<circle cx="58.8" cy="249.4" r="1.85"/>
<circle cx="44.0" cy="251.9" r="1.85"/>
<circle cx="46.2" cy="252.1" r="1.85"/>
<circle cx="49.1" cy="252.0" r="1.85"/>
<circle cx="51.4" cy="251.9" r="1.85"/>
<circle cx="54.3" cy="251.7" r="1.85"/>
<circle cx="107.8" cy="204.9" r="1.75"/>
<circle cx="107.4" cy="207.4" r="1.75"/>
<circle cx="107.8" cy="209.9" r="1.75"/>
<circle cx="107.8" cy="212.4" r="1.75"/>
<circle cx="108.2" cy="214.9" r="1.75"/>
<circle cx="107.8" cy="217.4" r="1.75"/>
<circle cx="108.2" cy="219.9" r="1.75"/>
<circle cx="107.4" cy="222.4" r="1.75"/>
<circle cx="108.2" cy="224.8" r="1.75"/>
<circle cx="107.8" cy="227.3" r="1.75"/>
<circle cx="110.3" cy="215.7" r="1.75"/>
<circle cx="110.3" cy="220.7" r="1.75"/>
<circle cx="106.1" cy="213.2" r="1.75"/>
<circle cx="102.0" cy="207.8" r="1.75"/>
<circle cx="102.4" cy="210.7" r="1.75"/>
<circle cx="103.2" cy="213.2" r="1.75"/>
<circle cx="101.1" cy="213.2" r="1.75"/>
<circle cx="103.2" cy="219.0" r="1.75"/>
<circle cx="102.4" cy="225.3" r="1.75"/>
<circle cx="111.1" cy="204.5" r="1.75"/>
<circle cx="113.6" cy="207.8" r="1.75"/>
<circle cx="113.6" cy="211.1" r="1.75"/>
<circle cx="116.5" cy="206.6" r="1.75"/>
<circle cx="117.7" cy="215.3" r="1.75"/>
<circle cx="114.4" cy="226.5" r="1.75"/>
<circle cx="121.1" cy="204.9" r="1.75"/>
<circle cx="120.6" cy="207.4" r="1.75"/>
<circle cx="120.6" cy="209.9" r="1.75"/>
<circle cx="120.6" cy="212.0" r="1.75"/>
<circle cx="121.1" cy="216.5" r="1.75"/>
<circle cx="121.1" cy="219.0" r="1.75"/>
<circle cx="122.3" cy="218.6" r="1.75"/>
<circle cx="121.1" cy="223.2" r="1.75"/>
<circle cx="126.5" cy="207.0" r="1.75"/>
<circle cx="125.2" cy="208.6" r="1.75"/>
<circle cx="128.5" cy="211.6" r="1.75"/>
<circle cx="126.5" cy="214.0" r="1.75"/>
<circle cx="133.9" cy="204.1" r="1.75"/>
<circle cx="134.4" cy="208.6" r="1.75"/>
<circle cx="133.5" cy="210.3" r="1.75"/>
<circle cx="136.4" cy="213.2" r="1.75"/>
<circle cx="136.4" cy="215.7" r="1.75"/>
<circle cx="133.5" cy="222.4" r="1.75"/>
<circle cx="134.8" cy="223.2" r="1.75"/>
<circle cx="141.0" cy="206.6" r="1.75"/>
<circle cx="143.1" cy="217.4" r="1.75"/>
<circle cx="144.3" cy="219.0" r="1.75"/>
<circle cx="146.0" cy="221.1" r="1.75"/>
<circle cx="146.0" cy="226.1" r="1.75"/>
<circle cx="148.5" cy="206.6" r="1.75"/>
<circle cx="149.3" cy="205.7" r="1.75"/>
<circle cx="148.1" cy="211.6" r="1.75"/>
<circle cx="149.7" cy="212.4" r="1.75"/>
<circle cx="147.6" cy="216.5" r="1.75"/>
<circle cx="149.3" cy="210.3" r="1.75"/>
<circle cx="92.8" cy="229.1" r="1.75"/>
<circle cx="94.0" cy="231.2" r="1.75"/>
<circle cx="98.6" cy="233.2" r="1.75"/>
<circle cx="110.6" cy="232.0" r="1.75"/>
<circle cx="139.7" cy="245.7" r="1.75"/>
<circle cx="367.1" cy="45.5" r="1.75"/>
<circle cx="353.8" cy="120.2" r="1.75"/>
<circle cx="362.7" cy="149.0" r="1.75"/>
<circle cx="383.8" cy="177.8" r="1.75"/>
<circle cx="476.7" cy="148.3" r="1.75"/>
<circle cx="482.2" cy="162.5" r="1.75"/>
<circle cx="495.6" cy="165.8" r="1.75"/>
<circle cx="504.1" cy="164.1" r="1.75"/>
<circle cx="483.0" cy="172.8" r="1.75"/>
<circle cx="504.1" cy="172.6" r="1.75"/>
<circle cx="507.1" cy="175.9" r="1.75"/>
<circle cx="491.1" cy="177.4" r="1.75"/>
<circle cx="548.0" cy="174.3" r="1.75"/>
<circle cx="393.1" cy="183.1" r="1.75"/>
<circle cx="399.3" cy="186.5" r="1.75"/>
<circle cx="369.4" cy="195.0" r="1.75"/>
<circle cx="419.7" cy="202.5" r="1.75"/>
<circle cx="355.6" cy="206.0" r="1.75"/>
<circle cx="355.6" cy="211.5" r="1.75"/>
<circle cx="355.6" cy="214.3" r="1.75"/>
<circle cx="386.3" cy="209.3" r="1.75"/>
<circle cx="380.7" cy="214.5" r="1.75"/>
<circle cx="383.8" cy="219.8" r="1.75"/>
<circle cx="369.4" cy="213.0" r="1.75"/>
<circle cx="369.9" cy="217.6" r="1.75"/>
<circle cx="373.0" cy="219.4" r="1.75"/>
<circle cx="430.0" cy="209.8" r="1.75"/>
<circle cx="437.5" cy="214.8" r="1.75"/>
<circle cx="440.0" cy="216.8" r="1.75"/>
<circle cx="443.3" cy="214.3" r="1.75"/>
<circle cx="443.3" cy="218.4" r="1.75"/>
<circle cx="435.5" cy="220.1" r="1.75"/>
<circle cx="469.4" cy="181.9" r="1.75"/>
<circle cx="503.9" cy="190.7" r="1.75"/>
<circle cx="503.1" cy="193.0" r="1.75"/>
<circle cx="523.4" cy="196.5" r="1.75"/>
<circle cx="523.4" cy="200.7" r="1.75"/>
<circle cx="479.4" cy="199.5" r="1.75"/>
<circle cx="482.7" cy="204.3" r="1.75"/>
<circle cx="487.7" cy="208.3" r="1.75"/>
<circle cx="491.1" cy="202.7" r="1.75"/>
<circle cx="495.1" cy="204.8" r="1.75"/>
<circle cx="501.3" cy="206.0" r="1.75"/>
<circle cx="530.5" cy="206.1" r="1.75"/>
<circle cx="458.3" cy="205.5" r="1.75"/>
<circle cx="467.7" cy="209.1" r="1.75"/>
<circle cx="506.9" cy="210.8" r="1.75"/>
<circle cx="513.4" cy="214.3" r="1.75"/>
<circle cx="515.4" cy="213.1" r="1.75"/>
<circle cx="508.8" cy="216.8" r="1.75"/>
<circle cx="528.4" cy="215.1" r="1.75"/>
<circle cx="532.5" cy="217.9" r="1.75"/>
<circle cx="540.0" cy="218.4" r="1.75"/>
<circle cx="470.5" cy="214.0" r="1.75"/>
<circle cx="476.0" cy="214.0" r="1.75"/>
<circle cx="476.0" cy="216.4" r="1.75"/>
<circle cx="469.1" cy="216.8" r="1.75"/>
<circle cx="466.9" cy="219.6" r="1.75"/>
<circle cx="473.2" cy="219.6" r="1.75"/>
<circle cx="458.9" cy="215.1" r="1.75"/>
<circle cx="458.3" cy="216.8" r="1.75"/>
<circle cx="458.9" cy="218.8" r="1.75"/>
<circle cx="445.3" cy="219.3" r="1.75"/>
<circle cx="491.1" cy="217.9" r="1.75"/>
<circle cx="495.6" cy="219.4" r="1.75"/>
<circle cx="503.1" cy="220.9" r="1.75"/>
<circle cx="548.1" cy="197.7" r="1.75"/>
<circle cx="565.1" cy="185.2" r="1.75"/>
<circle cx="565.1" cy="189.7" r="1.75"/>
<circle cx="565.1" cy="201.8" r="1.75"/>
<circle cx="581.4" cy="210.8" r="1.75"/>
<circle cx="567.4" cy="214.6" r="1.75"/>
<circle cx="552.6" cy="220.1" r="1.75"/>
<circle cx="568.7" cy="223.4" r="1.75"/>
<circle cx="587.3" cy="221.8" r="1.75"/>
<circle cx="528.3" cy="222.4" r="1.75"/>
<circle cx="548.1" cy="223.0" r="1.75"/>
<circle cx="548.7" cy="225.3" r="1.75"/>
<circle cx="552.7" cy="222.4" r="1.75"/>
<circle cx="487.6" cy="225.9" r="1.75"/>
<circle cx="490.5" cy="225.9" r="1.75"/>
<circle cx="488.2" cy="228.8" r="1.75"/>
<circle cx="498.7" cy="225.9" r="1.75"/>
<circle cx="508.6" cy="225.3" r="1.75"/>
<circle cx="507.4" cy="227.1" r="1.75"/>
<circle cx="523.1" cy="226.5" r="1.75"/>
<circle cx="502.7" cy="232.3" r="1.75"/>
<circle cx="502.7" cy="236.4" r="1.75"/>
<circle cx="504.5" cy="235.8" r="1.75"/>
<circle cx="507.4" cy="235.8" r="1.75"/>
<circle cx="502.7" cy="238.7" r="1.75"/>
<circle cx="505.1" cy="239.9" r="1.75"/>
<circle cx="508.0" cy="241.6" r="1.75"/>
<circle cx="508.6" cy="236.4" r="1.75"/>
<circle cx="525.4" cy="233.5" r="1.75"/>
<circle cx="525.4" cy="235.8" r="1.75"/>
<circle cx="519.0" cy="236.4" r="1.75"/>
<circle cx="519.0" cy="238.7" r="1.75"/>
<circle cx="523.1" cy="239.9" r="1.75"/>
<circle cx="530.1" cy="238.1" r="1.75"/>
<circle cx="531.2" cy="242.2" r="1.75"/>
<circle cx="519.0" cy="242.8" r="1.75"/>
<circle cx="548.1" cy="234.0" r="1.75"/>
<circle cx="547.5" cy="242.2" r="1.75"/>
<circle cx="542.9" cy="243.3" r="1.75"/>
<circle cx="542.9" cy="245.7" r="1.75"/>
<circle cx="501.6" cy="245.1" r="1.75"/>
<circle cx="508.0" cy="245.9" r="1.75"/>
<circle cx="501.6" cy="252.1" r="1.75"/>
<circle cx="503.9" cy="251.5" r="1.75"/>
<circle cx="506.8" cy="252.1" r="1.75"/>
<circle cx="501.0" cy="253.2" r="1.75"/>
<circle cx="519.0" cy="251.5" r="1.75"/>
<circle cx="523.1" cy="250.9" r="1.75"/>
<circle cx="525.4" cy="252.1" r="1.75"/>
<circle cx="528.9" cy="251.7" r="1.75"/>
<circle cx="530.1" cy="252.4" r="1.75"/>
<circle cx="540.0" cy="250.3" r="1.75"/>
<circle cx="541.7" cy="252.6" r="1.75"/>
<circle cx="367.4" cy="222.4" r="1.50"/>
<circle cx="376.9" cy="222.1" r="1.50"/>
<circle cx="407.1" cy="222.5" r="1.50"/>
<circle cx="355.7" cy="225.0" r="1.50"/>
<circle cx="360.3" cy="224.7" r="1.50"/>
<circle cx="367.4" cy="224.9" r="1.50"/>
<circle cx="374.2" cy="227.0" r="1.50"/>
<circle cx="395.3" cy="227.1" r="1.50"/>
<circle cx="362.9" cy="229.3" r="1.50"/>
<circle cx="369.9" cy="229.3" r="1.50"/>
<circle cx="374.4" cy="229.3" r="1.50"/>
<circle cx="397.6" cy="229.7" r="1.50"/>
<circle cx="411.7" cy="229.6" r="1.50"/>
<circle cx="413.8" cy="229.3" r="1.50"/>
<circle cx="400.2" cy="245.7" r="1.50"/>
<circle cx="400.2" cy="250.3" r="1.50"/>
<circle cx="425.5" cy="222.7" r="1.50"/>
<circle cx="430.6" cy="222.5" r="1.50"/>
<circle cx="437.4" cy="222.3" r="1.50"/>
<circle cx="439.9" cy="222.4" r="1.50"/>
<circle cx="446.8" cy="222.2" r="1.50"/>
<circle cx="448.9" cy="222.1" r="1.50"/>
<circle cx="470.1" cy="222.4" r="1.50"/>
<circle cx="476.7" cy="222.6" r="1.50"/>
<circle cx="439.6" cy="224.7" r="1.50"/>
<circle cx="455.8" cy="224.6" r="1.50"/>
<circle cx="465.5" cy="224.6" r="1.50"/>
<circle cx="472.1" cy="224.7" r="1.50"/>
<circle cx="423.3" cy="227.3" r="1.50"/>
<circle cx="425.5" cy="227.4" r="1.50"/>
<circle cx="434.8" cy="227.3" r="1.50"/>
<circle cx="444.5" cy="226.9" r="1.50"/>
<circle cx="458.3" cy="226.9" r="1.50"/>
<circle cx="462.8" cy="226.9" r="1.50"/>
<circle cx="465.2" cy="227.4" r="1.50"/>
<circle cx="470.3" cy="227.3" r="1.50"/>
<circle cx="472.0" cy="226.9" r="1.50"/>
<circle cx="423.7" cy="229.1" r="1.50"/>
<circle cx="456.1" cy="229.3" r="1.50"/>
<circle cx="463.3" cy="229.1" r="1.50"/>
<circle cx="467.8" cy="229.3" r="1.50"/>
<circle cx="472.1" cy="229.1" r="1.50"/>
<circle cx="361.3" cy="232.4" r="1.85"/>
<circle cx="363.8" cy="232.8" r="1.85"/>
<circle cx="368.9" cy="232.5" r="1.85"/>
<circle cx="371.2" cy="232.5" r="1.85"/>
<circle cx="373.9" cy="232.4" r="1.85"/>
<circle cx="383.7" cy="232.3" r="1.85"/>
<circle cx="389.1" cy="232.4" r="1.85"/>
<circle cx="396.2" cy="232.3" r="1.85"/>
<circle cx="398.8" cy="232.3" r="1.85"/>
<circle cx="361.2" cy="235.1" r="1.85"/>
<circle cx="368.9" cy="234.8" r="1.85"/>
<circle cx="374.1" cy="234.7" r="1.85"/>
<circle cx="383.8" cy="235.2" r="1.85"/>
<circle cx="388.7" cy="235.0" r="1.85"/>
<circle cx="369.2" cy="237.7" r="1.85"/>
<circle cx="373.8" cy="237.4" r="1.85"/>
<circle cx="379.1" cy="237.4" r="1.85"/>
<circle cx="384.2" cy="237.3" r="1.85"/>
<circle cx="399.2" cy="237.5" r="1.85"/>
<circle cx="356.4" cy="239.9" r="1.85"/>
<circle cx="361.3" cy="240.1" r="1.85"/>
<circle cx="368.8" cy="240.2" r="1.85"/>
<circle cx="371.5" cy="239.9" r="1.85"/>
<circle cx="373.8" cy="240.0" r="1.85"/>
<circle cx="378.8" cy="240.2" r="1.85"/>
<circle cx="381.2" cy="240.0" r="1.85"/>
<circle cx="384.0" cy="239.8" r="1.85"/>
<circle cx="396.6" cy="239.9" r="1.85"/>
<circle cx="399.0" cy="240.0" r="1.85"/>
<circle cx="356.4" cy="242.4" r="1.85"/>
<circle cx="361.3" cy="242.3" r="1.85"/>
<circle cx="379.2" cy="242.4" r="1.85"/>
<circle cx="381.2" cy="242.5" r="1.85"/>
<circle cx="383.9" cy="242.3" r="1.85"/>
<circle cx="386.2" cy="242.3" r="1.85"/>
<circle cx="388.8" cy="242.2" r="1.85"/>
<circle cx="394.0" cy="242.3" r="1.85"/>
<circle cx="396.6" cy="242.6" r="1.85"/>
<circle cx="399.1" cy="242.7" r="1.85"/>
<circle cx="356.3" cy="244.8" r="1.85"/>
<circle cx="363.7" cy="245.1" r="1.85"/>
<circle cx="369.1" cy="244.9" r="1.85"/>
<circle cx="371.4" cy="245.0" r="1.85"/>
<circle cx="374.1" cy="244.8" r="1.85"/>
<circle cx="379.2" cy="244.9" r="1.85"/>
<circle cx="381.3" cy="244.7" r="1.85"/>
<circle cx="384.2" cy="245.1" r="1.85"/>
<circle cx="386.6" cy="244.7" r="1.85"/>
<circle cx="391.1" cy="244.8" r="1.85"/>
<circle cx="393.8" cy="244.9" r="1.85"/>
<circle cx="396.3" cy="245.0" r="1.85"/>
<circle cx="398.7" cy="245.2" r="1.85"/>
<circle cx="356.6" cy="247.6" r="1.85"/>
<circle cx="363.9" cy="247.4" r="1.85"/>
<circle cx="366.6" cy="247.4" r="1.85"/>
<circle cx="368.7" cy="247.6" r="1.85"/>
<circle cx="376.6" cy="247.3" r="1.85"/>
<circle cx="379.2" cy="247.5" r="1.85"/>
<circle cx="381.2" cy="247.3" r="1.85"/>
<circle cx="391.2" cy="247.6" r="1.85"/>
<circle cx="394.2" cy="247.6" r="1.85"/>
<circle cx="396.5" cy="247.4" r="1.85"/>
<circle cx="399.0" cy="247.6" r="1.85"/>
<circle cx="366.4" cy="249.7" r="1.85"/>
<circle cx="368.9" cy="250.2" r="1.85"/>
<circle cx="371.6" cy="250.1" r="1.85"/>
<circle cx="376.7" cy="250.0" r="1.85"/>
<circle cx="378.9" cy="249.7" r="1.85"/>
<circle cx="381.6" cy="249.9" r="1.85"/>
<circle cx="386.4" cy="250.2" r="1.85"/>
<circle cx="388.7" cy="250.1" r="1.85"/>
<circle cx="393.6" cy="250.1" r="1.85"/>
<circle cx="396.3" cy="250.0" r="1.85"/>
<circle cx="399.2" cy="250.0" r="1.85"/>
<circle cx="364.0" cy="252.3" r="1.85"/>
<circle cx="368.7" cy="252.3" r="1.85"/>
<circle cx="371.4" cy="252.3" r="1.85"/>
<circle cx="373.9" cy="252.2" r="1.85"/>
<circle cx="376.6" cy="252.5" r="1.85"/>
<circle cx="381.3" cy="252.3" r="1.85"/>
<circle cx="383.9" cy="252.4" r="1.85"/>
<circle cx="386.7" cy="252.3" r="1.85"/>
<circle cx="388.8" cy="252.7" r="1.85"/>
<circle cx="391.2" cy="252.5" r="1.85"/>
<circle cx="393.8" cy="252.6" r="1.85"/>
<circle cx="396.4" cy="252.6" r="1.85"/>
<circle cx="398.7" cy="252.5" r="1.85"/>
<circle cx="411.6" cy="232.5" r="1.85"/>
<circle cx="426.6" cy="232.7" r="1.85"/>
<circle cx="428.7" cy="232.4" r="1.85"/>
<circle cx="448.8" cy="232.3" r="1.85"/>
<circle cx="403.8" cy="234.9" r="1.85"/>
<circle cx="408.8" cy="235.1" r="1.85"/>
<circle cx="416.5" cy="234.8" r="1.85"/>
<circle cx="421.4" cy="235.0" r="1.85"/>
<circle cx="433.9" cy="234.8" r="1.85"/>
<circle cx="438.7" cy="234.7" r="1.85"/>
<circle cx="406.8" cy="237.6" r="1.85"/>
<circle cx="408.8" cy="237.6" r="1.85"/>
<circle cx="429.2" cy="237.5" r="1.85"/>
<circle cx="438.7" cy="237.5" r="1.85"/>
<circle cx="443.9" cy="237.3" r="1.85"/>
<circle cx="446.4" cy="237.2" r="1.85"/>
<circle cx="449.1" cy="237.6" r="1.85"/>
<circle cx="401.6" cy="240.2" r="1.85"/>
<circle cx="409.1" cy="239.8" r="1.85"/>
<circle cx="411.4" cy="239.8" r="1.85"/>
<circle cx="416.2" cy="240.1" r="1.85"/>
<circle cx="424.2" cy="239.8" r="1.85"/>
<circle cx="426.3" cy="240.1" r="1.85"/>
<circle cx="429.2" cy="240.2" r="1.85"/>
<circle cx="438.7" cy="240.1" r="1.85"/>
<circle cx="444.1" cy="240.1" r="1.85"/>
<circle cx="446.2" cy="240.2" r="1.85"/>
<circle cx="448.8" cy="239.9" r="1.85"/>
<circle cx="409.1" cy="242.4" r="1.85"/>
<circle cx="411.4" cy="242.2" r="1.85"/>
<circle cx="414.0" cy="242.5" r="1.85"/>
<circle cx="416.7" cy="242.6" r="1.85"/>
<circle cx="424.2" cy="242.7" r="1.85"/>
<circle cx="426.5" cy="242.5" r="1.85"/>
<circle cx="428.7" cy="242.3" r="1.85"/>
<circle cx="444.0" cy="242.2" r="1.85"/>
<circle cx="446.2" cy="242.4" r="1.85"/>
<circle cx="449.2" cy="242.2" r="1.85"/>
<circle cx="401.3" cy="244.9" r="1.85"/>
<circle cx="408.8" cy="245.1" r="1.85"/>
<circle cx="411.7" cy="245.2" r="1.85"/>
<circle cx="414.0" cy="244.8" r="1.85"/>
<circle cx="416.6" cy="245.0" r="1.85"/>
<circle cx="421.4" cy="244.9" r="1.85"/>
<circle cx="423.9" cy="245.1" r="1.85"/>
<circle cx="429.2" cy="245.2" r="1.85"/>
<circle cx="431.2" cy="244.8" r="1.85"/>
<circle cx="436.4" cy="245.0" r="1.85"/>
<circle cx="438.8" cy="244.8" r="1.85"/>
<circle cx="441.2" cy="244.8" r="1.85"/>
<circle cx="444.2" cy="245.2" r="1.85"/>
<circle cx="446.6" cy="245.2" r="1.85"/>
<circle cx="401.8" cy="247.5" r="1.85"/>
<circle cx="406.7" cy="247.2" r="1.85"/>
<circle cx="409.1" cy="247.3" r="1.85"/>
<circle cx="411.8" cy="247.4" r="1.85"/>
<circle cx="413.9" cy="247.4" r="1.85"/>
<circle cx="416.7" cy="247.2" r="1.85"/>
<circle cx="421.3" cy="247.6" r="1.85"/>
<circle cx="423.9" cy="247.2" r="1.85"/>
<circle cx="429.1" cy="247.4" r="1.85"/>
<circle cx="431.4" cy="247.5" r="1.85"/>
<circle cx="434.0" cy="247.4" r="1.85"/>
<circle cx="436.2" cy="247.7" r="1.85"/>
<circle cx="439.0" cy="247.2" r="1.85"/>
<circle cx="444.1" cy="247.3" r="1.85"/>
<circle cx="446.4" cy="247.3" r="1.85"/>
<circle cx="448.9" cy="247.5" r="1.85"/>
<circle cx="401.4" cy="250.0" r="1.85"/>
<circle cx="403.8" cy="249.9" r="1.85"/>
<circle cx="406.6" cy="249.7" r="1.85"/>
<circle cx="408.8" cy="249.9" r="1.85"/>
<circle cx="411.5" cy="250.1" r="1.85"/>
<circle cx="413.8" cy="250.2" r="1.85"/>
<circle cx="416.6" cy="249.7" r="1.85"/>
<circle cx="421.7" cy="249.9" r="1.85"/>
<circle cx="424.2" cy="250.0" r="1.85"/>
<circle cx="426.6" cy="249.7" r="1.85"/>
<circle cx="428.7" cy="249.8" r="1.85"/>
<circle cx="431.4" cy="249.6" r="1.85"/>
<circle cx="436.5" cy="249.8" r="1.85"/>
<circle cx="439.0" cy="249.9" r="1.85"/>
<circle cx="441.6" cy="250.0" r="1.85"/>
<circle cx="443.9" cy="250.2" r="1.85"/>
<circle cx="446.2" cy="250.1" r="1.85"/>
<circle cx="448.8" cy="250.1" r="1.85"/>
<circle cx="401.7" cy="252.6" r="1.85"/>
<circle cx="408.8" cy="252.4" r="1.85"/>
<circle cx="411.7" cy="252.7" r="1.85"/>
<circle cx="414.1" cy="252.2" r="1.85"/>
<circle cx="416.6" cy="252.2" r="1.85"/>
<circle cx="419.0" cy="252.6" r="1.85"/>
<circle cx="421.2" cy="252.7" r="1.85"/>
<circle cx="424.1" cy="252.3" r="1.85"/>
<circle cx="426.3" cy="252.4" r="1.85"/>
<circle cx="429.2" cy="252.5" r="1.85"/>
<circle cx="431.2" cy="252.1" r="1.85"/>
<circle cx="436.2" cy="252.6" r="1.85"/>
<circle cx="438.7" cy="252.5" r="1.85"/>
<circle cx="441.3" cy="252.5" r="1.85"/>
<circle cx="443.8" cy="252.2" r="1.85"/>
<circle cx="446.6" cy="252.5" r="1.85"/>
<circle cx="449.0" cy="252.6" r="1.85"/>
<circle cx="451.8" cy="232.2" r="1.85"/>
<circle cx="456.4" cy="232.3" r="1.85"/>
<circle cx="459.0" cy="232.7" r="1.85"/>
<circle cx="464.2" cy="232.2" r="1.85"/>
<circle cx="471.3" cy="232.7" r="1.85"/>
<circle cx="481.6" cy="232.4" r="1.85"/>
<circle cx="488.9" cy="232.3" r="1.85"/>
<circle cx="459.2" cy="234.9" r="1.85"/>
<circle cx="461.7" cy="235.1" r="1.85"/>
<circle cx="473.7" cy="234.9" r="1.85"/>
<circle cx="481.3" cy="235.2" r="1.85"/>
<circle cx="489.0" cy="234.7" r="1.85"/>
<circle cx="491.2" cy="234.9" r="1.85"/>
<circle cx="456.5" cy="237.5" r="1.85"/>
<circle cx="458.9" cy="237.2" r="1.85"/>
<circle cx="461.4" cy="237.2" r="1.85"/>
<circle cx="464.0" cy="237.8" r="1.85"/>
<circle cx="466.2" cy="237.3" r="1.85"/>
<circle cx="469.1" cy="237.3" r="1.85"/>
<circle cx="471.3" cy="237.5" r="1.85"/>
<circle cx="476.3" cy="237.5" r="1.85"/>
<circle cx="481.5" cy="237.8" r="1.85"/>
<circle cx="491.7" cy="237.2" r="1.85"/>
<circle cx="498.9" cy="237.6" r="1.85"/>
<circle cx="456.8" cy="240.1" r="1.85"/>
<circle cx="459.1" cy="239.9" r="1.85"/>
<circle cx="461.4" cy="240.1" r="1.85"/>
<circle cx="466.7" cy="240.2" r="1.85"/>
<circle cx="469.1" cy="239.9" r="1.85"/>
<circle cx="471.6" cy="240.0" r="1.85"/>
<circle cx="474.1" cy="239.9" r="1.85"/>
<circle cx="484.0" cy="239.9" r="1.85"/>
<circle cx="491.1" cy="239.9" r="1.85"/>
<circle cx="451.4" cy="242.8" r="1.85"/>
<circle cx="456.5" cy="242.4" r="1.85"/>
<circle cx="458.9" cy="242.4" r="1.85"/>
<circle cx="461.2" cy="242.7" r="1.85"/>
<circle cx="464.0" cy="242.4" r="1.85"/>
<circle cx="466.5" cy="242.3" r="1.85"/>
<circle cx="471.3" cy="242.2" r="1.85"/>
<circle cx="473.9" cy="242.6" r="1.85"/>
<circle cx="476.5" cy="242.7" r="1.85"/>
<circle cx="483.8" cy="242.7" r="1.85"/>
<circle cx="486.5" cy="242.2" r="1.85"/>
<circle cx="451.4" cy="245.0" r="1.85"/>
<circle cx="456.8" cy="244.9" r="1.85"/>
<circle cx="459.0" cy="245.2" r="1.85"/>
<circle cx="461.5" cy="245.2" r="1.85"/>
<circle cx="463.9" cy="244.7" r="1.85"/>
<circle cx="466.3" cy="244.8" r="1.85"/>
<circle cx="471.6" cy="244.8" r="1.85"/>
<circle cx="473.8" cy="245.0" r="1.85"/>
<circle cx="476.6" cy="244.8" r="1.85"/>
<circle cx="479.1" cy="245.2" r="1.85"/>
<circle cx="481.5" cy="244.7" r="1.85"/>
<circle cx="484.1" cy="245.2" r="1.85"/>
<circle cx="491.3" cy="244.7" r="1.85"/>
<circle cx="496.2" cy="245.0" r="1.85"/>
<circle cx="454.3" cy="247.5" r="1.85"/>
<circle cx="456.4" cy="247.3" r="1.85"/>
<circle cx="459.1" cy="247.4" r="1.85"/>
<circle cx="461.4" cy="247.2" r="1.85"/>
<circle cx="463.7" cy="247.5" r="1.85"/>
<circle cx="466.5" cy="247.5" r="1.85"/>
<circle cx="468.8" cy="247.4" r="1.85"/>
<circle cx="471.7" cy="247.5" r="1.85"/>
<circle cx="473.7" cy="247.5" r="1.85"/>
<circle cx="476.4" cy="247.2" r="1.85"/>
<circle cx="478.7" cy="247.6" r="1.85"/>
<circle cx="481.6" cy="247.4" r="1.85"/>
<circle cx="484.0" cy="247.5" r="1.85"/>
<circle cx="486.5" cy="247.5" r="1.85"/>
<circle cx="491.3" cy="247.6" r="1.85"/>
<circle cx="451.4" cy="250.1" r="1.85"/>
<circle cx="456.7" cy="250.1" r="1.85"/>
<circle cx="459.2" cy="250.2" r="1.85"/>
<circle cx="461.5" cy="249.8" r="1.85"/>
<circle cx="464.0" cy="250.2" r="1.85"/>
<circle cx="466.2" cy="249.9" r="1.85"/>
<circle cx="469.2" cy="249.9" r="1.85"/>
<circle cx="471.3" cy="250.1" r="1.85"/>
<circle cx="473.7" cy="249.7" r="1.85"/>
<circle cx="476.2" cy="249.9" r="1.85"/>
<circle cx="478.8" cy="250.2" r="1.85"/>
<circle cx="481.2" cy="249.7" r="1.85"/>
<circle cx="484.1" cy="250.2" r="1.85"/>
<circle cx="488.7" cy="249.7" r="1.85"/>
<circle cx="491.6" cy="249.8" r="1.85"/>
<circle cx="451.8" cy="252.4" r="1.85"/>
<circle cx="459.1" cy="252.3" r="1.85"/>
<circle cx="466.7" cy="252.4" r="1.85"/>
<circle cx="468.9" cy="252.7" r="1.85"/>
<circle cx="471.2" cy="252.6" r="1.85"/>
<circle cx="473.7" cy="252.5" r="1.85"/>
<circle cx="478.9" cy="252.6" r="1.85"/>
<circle cx="481.2" cy="252.5" r="1.85"/>
<circle cx="483.9" cy="252.7" r="1.85"/>
<circle cx="491.7" cy="252.5" r="1.85"/>
<circle cx="498.7" cy="252.3" r="1.85"/>
<circle cx="565.2" cy="226.2" r="1.75"/>
<circle cx="581.5" cy="231.5" r="1.75"/>
<circle cx="587.2" cy="231.1" r="1.75"/>
<circle cx="587.2" cy="238.9" r="1.75"/>
<circle cx="558.8" cy="239.5" r="1.75"/>
<circle cx="565.2" cy="236.9" r="1.75"/>
<circle cx="568.9" cy="239.6" r="1.75"/>
<circle cx="565.2" cy="243.1" r="1.75"/>
<circle cx="568.9" cy="249.4" r="1.75"/>
<circle cx="565.2" cy="251.7" r="1.75"/>
<circle cx="565.2" cy="253.6" r="1.75"/>
</g>
<g stroke="#3f3f3f" stroke-width="1" fill="none">
<polyline points="41.3,255.4 41.3,5.4 293.3,5.4 293.3,255.4"/>
<line x1="40.8" y1="255.0" x2="293.8" y2="255.0" stroke="#555" stroke-width="1.6"/>
<line x1="41.3" y1="228.6" x2="45.9" y2="228.6"/>
<line x1="67.8" y1="254.9" x2="67.8" y2="250.3"/>
<line x1="41.3" y1="202.4" x2="45.9" y2="202.4"/>
<line x1="94.4" y1="254.9" x2="94.4" y2="250.3"/>
<line x1="41.3" y1="176.1" x2="45.9" y2="176.1"/>
<line x1="120.9" y1="254.9" x2="120.9" y2="250.3"/>
<line x1="41.3" y1="149.8" x2="45.9" y2="149.8"/>
<line x1="147.4" y1="254.9" x2="147.4" y2="250.3"/>
<line x1="41.3" y1="123.6" x2="45.9" y2="123.6"/>
<line x1="173.9" y1="254.9" x2="173.9" y2="250.3"/>
<line x1="41.3" y1="97.3" x2="45.9" y2="97.3"/>
<line x1="200.5" y1="254.9" x2="200.5" y2="250.3"/>
<line x1="41.3" y1="71.1" x2="45.9" y2="71.1"/>
<line x1="227.0" y1="254.9" x2="227.0" y2="250.3"/>
<line x1="41.3" y1="44.8" x2="45.9" y2="44.8"/>
<line x1="253.5" y1="254.9" x2="253.5" y2="250.3"/>
<line x1="41.3" y1="18.5" x2="45.9" y2="18.5"/>
<line x1="280.0" y1="254.9" x2="280.0" y2="250.3"/>
<polyline points="351.4,255.4 351.4,5.4 595.5,5.4"/>
<polyline points="350.9,255.0 594.9,255.0 594.9,4.9" stroke="#666" stroke-width="1.55"/>
<line x1="351.4" y1="227.2" x2="356.0" y2="227.2"/>
<line x1="351.4" y1="199.5" x2="356.0" y2="199.5"/>
<line x1="351.4" y1="171.8" x2="356.0" y2="171.8"/>
<line x1="351.4" y1="144.0" x2="356.0" y2="144.0"/>
<line x1="351.4" y1="116.3" x2="356.0" y2="116.3"/>
<line x1="351.4" y1="88.6" x2="356.0" y2="88.6"/>
<line x1="351.4" y1="60.9" x2="356.0" y2="60.9"/>
<line x1="351.4" y1="33.1" x2="356.0" y2="33.1"/>
<line x1="381.8" y1="254.9" x2="381.8" y2="250.3"/>
<line x1="412.3" y1="254.9" x2="412.3" y2="250.3"/>
<line x1="442.7" y1="254.9" x2="442.7" y2="250.3"/>
<line x1="473.1" y1="254.9" x2="473.1" y2="250.3"/>
<line x1="503.6" y1="254.9" x2="503.6" y2="250.3"/>
<line x1="534.0" y1="254.9" x2="534.0" y2="250.3"/>
<line x1="564.5" y1="254.9" x2="564.5" y2="250.3"/>
</g>
<g font-size="14.6">
<text transform="translate(33.4,259.7) scale(0.90,1)" text-anchor="end">0</text>
<text transform="translate(41.3,276.9) scale(0.90,1)" text-anchor="middle">0</text>
<text transform="translate(33.4,233.4) scale(0.90,1)" text-anchor="end">2</text>
<text transform="translate(67.8,276.9) scale(0.90,1)" text-anchor="middle">2</text>
<text transform="translate(33.4,207.2) scale(0.90,1)" text-anchor="end">4</text>
<text transform="translate(94.4,276.9) scale(0.90,1)" text-anchor="middle">4</text>
<text transform="translate(33.4,180.9) scale(0.90,1)" text-anchor="end">6</text>
<text transform="translate(120.9,276.9) scale(0.90,1)" text-anchor="middle">6</text>
<text transform="translate(33.4,154.6) scale(0.90,1)" text-anchor="end">8</text>
<text transform="translate(147.4,276.9) scale(0.90,1)" text-anchor="middle">8</text>
<text transform="translate(33.4,128.4) scale(0.90,1)" text-anchor="end">10</text>
<text transform="translate(173.9,276.9) scale(0.90,1)" text-anchor="middle">10</text>
<text transform="translate(33.4,102.1) scale(0.90,1)" text-anchor="end">12</text>
<text transform="translate(200.5,276.9) scale(0.90,1)" text-anchor="middle">12</text>
<text transform="translate(33.4,75.9) scale(0.90,1)" text-anchor="end">14</text>
<text transform="translate(227.0,276.9) scale(0.90,1)" text-anchor="middle">14</text>
<text transform="translate(33.4,49.6) scale(0.90,1)" text-anchor="end">16</text>
<text transform="translate(253.5,276.9) scale(0.90,1)" text-anchor="middle">16</text>
<text transform="translate(33.4,23.3) scale(0.90,1)" text-anchor="end">18</text>
<text transform="translate(280.0,276.9) scale(0.90,1)" text-anchor="middle">18</text>
<text transform="translate(345.4,259.8) scale(0.90,1)" text-anchor="end">0</text>
<text transform="translate(345.4,232.0) scale(0.90,1)" text-anchor="end">20</text>
<text transform="translate(345.4,204.3) scale(0.90,1)" text-anchor="end">40</text>
<text transform="translate(345.4,176.6) scale(0.90,1)" text-anchor="end">60</text>
<text transform="translate(345.4,148.8) scale(0.90,1)" text-anchor="end">80</text>
<text transform="translate(345.4,121.1) scale(0.90,1)" text-anchor="end">100</text>
<text transform="translate(345.4,93.4) scale(0.90,1)" text-anchor="end">120</text>
<text transform="translate(345.4,65.7) scale(0.90,1)" text-anchor="end">140</text>
<text transform="translate(345.4,37.9) scale(0.90,1)" text-anchor="end">160</text>
<text transform="translate(345.4,10.2) scale(0.90,1)" text-anchor="end">180</text>
<text transform="translate(351.5,276.5) scale(0.90,1)" text-anchor="middle">0</text>
<text transform="translate(381.9,276.5) scale(0.90,1)" text-anchor="middle">2</text>
<text transform="translate(412.4,276.5) scale(0.90,1)" text-anchor="middle">4</text>
<text transform="translate(442.8,276.5) scale(0.90,1)" text-anchor="middle">6</text>
<text transform="translate(473.2,276.5) scale(0.90,1)" text-anchor="middle">8</text>
<text transform="translate(503.7,276.5) scale(0.90,1)" text-anchor="middle">10</text>
<text transform="translate(534.1,276.5) scale(0.90,1)" text-anchor="middle">12</text>
<text transform="translate(564.6,276.5) scale(0.90,1)" text-anchor="middle">14</text>
<text transform="translate(595.0,276.5) scale(0.90,1)" text-anchor="middle">16</text>
</g>
<g font-size="14.2">
<text y="295.9"><tspan x="139.5" font-style="italic">s</tspan><tspan x="150.9" y="299.1" font-size="8.5">,0</tspan><tspan x="161.9" y="295.9">(mm)</tspan></text><text transform="translate(145.1,299) scale(0.8,1)" font-size="8" stroke="#262626" stroke-width="0.25">⊥</text>
<text y="295.9"><tspan x="445.3" font-style="italic">s</tspan><tspan x="456.7" y="299.1" font-size="8.5">,0</tspan><tspan x="467.7" y="295.9">(mm)</tspan></text><text transform="translate(450.9,299) scale(0.8,1)" font-size="8" stroke="#262626" stroke-width="0.25">⊥</text>
<text transform="translate(10.9,153.2) rotate(-90)"><tspan x="0" y="0" font-style="italic">s</tspan><tspan x="12.8" y="0" letter-spacing="0.3">(mm)</tspan></text>
<text transform="translate(14.0,147.6) rotate(-90) scale(0.8,1)" font-size="8" stroke="#262626" stroke-width="0.25">⊥</text>
<text transform="translate(313.9,144.3) rotate(-90)"><tspan font-style="italic" font-size="14.6">ψ</tspan><tspan font-size="13.6"> (°)</tspan></text>
<text x="51.3" y="22.9" font-size="13.4" letter-spacing="0.25">(<tspan font-style="italic">a</tspan>)</text>
<text x="359.3" y="22.1" font-size="13">(<tspan font-style="italic">b</tspan>)</text>
</g>
</svg></body></html>
